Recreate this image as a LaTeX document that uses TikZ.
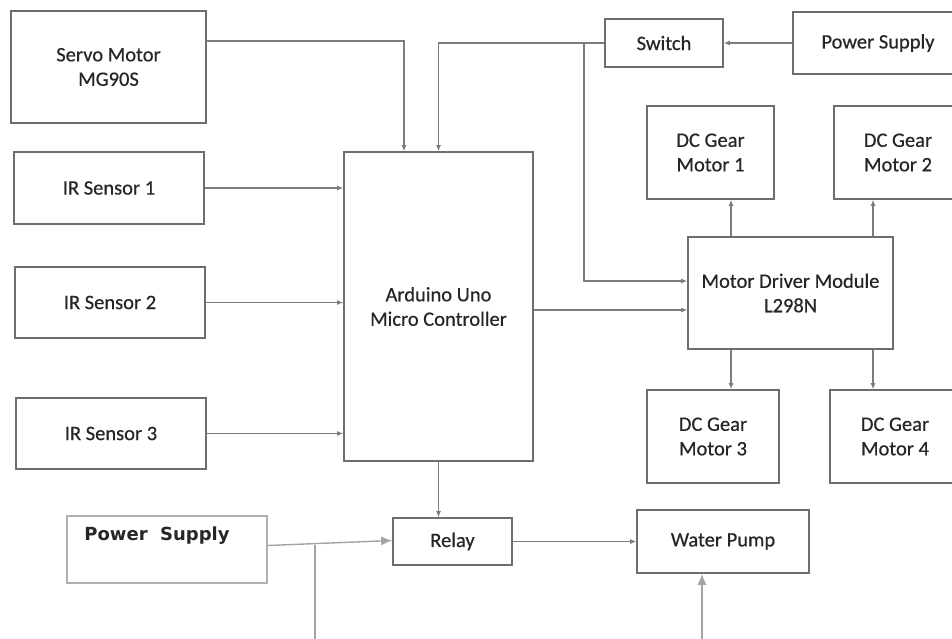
\documentclass[tikz,border=0pt]{standalone}
\usepackage{fontspec}
\setmainfont{Carlito}
\newfontfamily\txtfont{Carlito}[FakeBold=0.5]
\newfontfamily\psfont{DejaVu Sans}
\usetikzlibrary{arrows.meta}
\definecolor{boxc}{HTML}{6E6E6E}
\definecolor{linec}{HTML}{7C7C7C}
\definecolor{txtc}{HTML}{262626}
\definecolor{lightc}{HTML}{B0B0B0}
\definecolor{lightl}{HTML}{A4A4A4}
\tikzset{
  blk/.style={draw=boxc, line width=1.6pt, inner sep=0pt, align=center, text=txtc,
    font=\txtfont\fontsize{20.5}{24.5}\selectfont},
  conn/.style={draw=linec, line width=1.1pt, -{Latex[length=6pt,width=5pt]}},
  plain/.style={draw=linec, line width=1.1pt},
  lconn/.style={draw=lightl, line width=1.4pt, -{Latex[length=11pt,width=9pt]}},
  lplain/.style={draw=lightl, line width=1.4pt},
}
\begin{document}
\begin{tikzpicture}[x=1pt,y=-1pt]
\useasboundingbox (0,0) rectangle (952,639);
\clip (0,0) rectangle (952,639);
\fill[white] (0,0) rectangle (952,639);
% boxes
\node[blk, minimum width=195pt, minimum height=112pt] (servo) at (108.5,67) {Servo Motor\\MG90S};
\node[blk, minimum width=190pt, minimum height=72pt] (ir1) at (109,188) {IR Sensor 1};
\node[blk, minimum width=190pt, minimum height=71pt] (ir2) at (110,302.5) {IR Sensor 2};
\node[blk, minimum width=190pt, minimum height=71pt] (ir3) at (111,433.5) {IR Sensor 3};
\node[blk, minimum width=189pt, minimum height=309pt] (ardu) at (438.5,306.5) {Arduino Uno\\Micro Controller};
\node[blk, minimum width=118pt, minimum height=48pt] (sw) at (664,43) {Switch};
\node[blk, minimum width=170pt, minimum height=62pt] (ps1) at (878,43) {Power Supply};
\node[blk, minimum width=127pt, minimum height=93pt] (dc1) at (710.5,152.5) {DC Gear\\Motor 1};
\node[blk, minimum width=128pt, minimum height=93pt] (dc2) at (898,152.5) {DC Gear\\Motor 2};
\node[blk, minimum width=205pt, minimum height=112pt] (drv) at (790.5,293) {Motor Driver Module\\L298N};
\node[blk, minimum width=132pt, minimum height=93pt] (dc3) at (713,436.5) {DC Gear\\Motor 3};
\node[blk, minimum width=130pt, minimum height=93pt] (dc4) at (895,436.5) {DC Gear\\Motor 4};
\node[blk, minimum width=172pt, minimum height=63pt] (wp) at (723,541.5) {Water Pump};
\node[blk, minimum width=119pt, minimum height=47pt] (relay) at (452.5,541.5) {Relay};
\node[draw=lightc, line width=1.4pt, minimum width=200pt, minimum height=67pt, inner sep=0pt] (ps2) at (167,549.5) {};
\node[text=txtc, font=\psfont\bfseries\fontsize{18}{22}\selectfont, inner sep=0pt] (ps2t) at (157,536) {Power~~Supply};
% helper coordinates
\coordinate (xa) at (731,0);
\coordinate (xb) at (873,0);
\coordinate (j1) at (584,43);
\coordinate (j2) at (315,544.5);
\coordinate (b2) at (315,645);
\coordinate (b3) at (702,645);
% connectors
\draw[conn] ([yshift=26pt]servo.east) -| ([xshift=-34.5pt]ardu.north);
\draw[conn] (sw.west) -| (ardu.north);
\draw[conn] (ps1.west) -- (sw.east);
\draw[conn] (j1) |- ([yshift=12pt]drv.west);
\draw[conn] (ir1.east) -- (ir1.east -| ardu.west);
\draw[conn] (ir2.east) -- (ir2.east -| ardu.west);
\draw[conn] (ir3.east) -- (ir3.east -| ardu.west);
\draw[conn] (ardu.east |- 0,310) -- (drv.west |- 0,310);
\draw[conn] (drv.north -| xa) -- (dc1.south -| xa);
\draw[conn] (drv.north -| xb) -- (dc2.south -| xb);
\draw[conn] (drv.south -| xa) -- (dc3.north -| xa);
\draw[conn] (drv.south -| xb) -- (dc4.north -| xb);
\draw[conn] (ardu.south) -- (ardu.south |- relay.north);
\draw[conn] (relay.east) -- (wp.west);
\draw[lconn] ([yshift=4pt]ps2.east) -- ([yshift=1pt]relay.west);
\draw[lplain] (j2) -- (b2);
\draw[lconn] (b3) -- (b3 |- wp.south);
\end{tikzpicture}
\end{document}
